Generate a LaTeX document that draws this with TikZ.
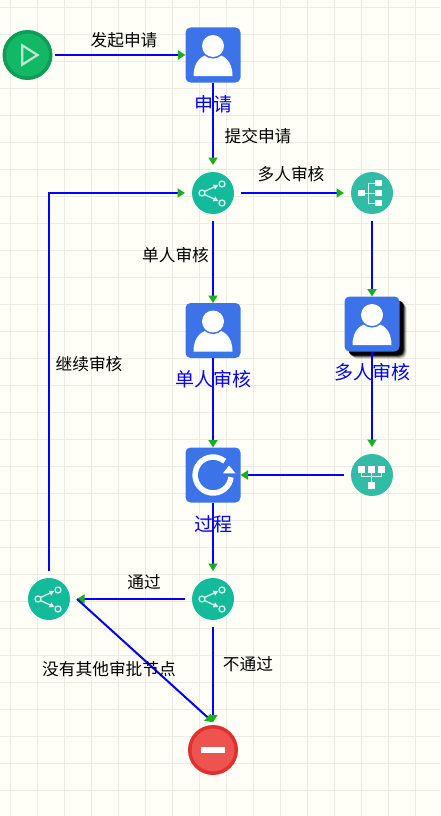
\documentclass[tikz,border=0pt]{standalone}
\usepackage{fontspec}
\setmainfont{Noto Sans CJK SC}
\usetikzlibrary{arrows.meta}
\usetikzlibrary{positioning}

\definecolor{paper}{HTML}{FFFFF8}
\definecolor{gridcol}{HTML}{ECECE6}
\definecolor{boxblue}{HTML}{3D73E8}
\definecolor{tipgreen}{HTML}{1AAF1A}
\definecolor{startfill}{HTML}{13B866}
\definecolor{startring}{HTML}{0E9C57}
\definecolor{stopfill}{HTML}{EF5350}
\definecolor{stopring}{HTML}{DF322E}
\definecolor{forkfill}{HTML}{13BB9B}
\definecolor{multifill}{HTML}{33BCA5}
\definecolor{iconline}{HTML}{D8F3EC}

\tikzset{
  gridline/.style={draw=gridcol, line width=1.5pt},
  flow/.style={draw=blue, line width=2pt, -{Triangle[length=7.5pt,width=9pt,color=tipgreen]}},
  userbox/.style={fill=boxblue, rounded corners=5pt, minimum size=55pt, inner sep=0pt, outer sep=0pt},
  gateway/.style={circle, fill=#1, minimum size=42pt, inner sep=0pt, outer sep=7pt},
  terminal/.style={circle, fill=#1, line width=3.5pt, minimum size=46.5pt, inner sep=0pt, outer sep=4.5pt},
  boxtext/.style={text=blue, font=\fontsize{19}{19}\selectfont, inner sep=0pt},
  flowtext/.style={text=black, font=\fontsize{16.7}{17}\selectfont, inner sep=0pt},
  personicon/.pic={
    \fill [white] (-19.5,-21) .. controls (-19.5,-6) and (-11,1) .. (0,1)
      .. controls (11,1) and (19.5,-6) .. (19.5,-21) -- cycle;
    \fill [boxblue] (0,9) circle (12.6);
    \fill [white] (0,9) circle (11);
  },
  forkicon/.pic={
    \draw [iconline, line width=1.3pt] (-11,0) circle (3) (9,9) circle (3) (9,-10) circle (3);
    \draw [iconline, line width=1.3pt, -{Triangle[length=5pt,width=5pt]}] (-8.5,1.5) -- (5.5,8);
    \draw [iconline, line width=1.3pt, -{Triangle[length=5pt,width=5pt]}] (-8.5,-1.5) -- (5.5,-8);
  },
  spliticon/.pic={
    \fill [white] (-14,-3.3) rectangle (-7.3,3.3);
    \foreach \rowy in {10,0,-10} {
      \fill [white] (3,\rowy-3.3) rectangle (10,\rowy+3.3);
      \draw [iconline, line width=.8pt] (-4,\rowy) -- (3,\rowy);
    }
    \draw [iconline, line width=.8pt] (-7.3,0) -- (-4,0) (-4,10) -- (-4,-10);
  },
  joinicon/.pic={
    \foreach \colx in {-10.3,-.7,9.3} {
      \fill [white] (\colx-3.3,2.3) rectangle (\colx+3.3,9);
      \draw [iconline, line width=.8pt] (\colx,2.3) -- (\colx,-1.7);
    }
    \fill [white] (-4,-14) rectangle (2.7,-7.3);
    \draw [iconline, line width=.8pt] (-10.3,-1.7) -- (9.3,-1.7) (-.7,-1.7) -- (-.7,-7.3);
  },
  turnicon/.pic={
    \draw [white, line width=5.5pt] (18,-2.2) arc (-7:-310:18);
    \fill [white] (10,1.7) -- (22.6,1.7) -- (16,9.5) -- cycle;
  },
}

\begin{document}
\begin{tikzpicture}[x=1pt, y=1pt, on grid]
    \useasboundingbox (0,0) rectangle (440,-816);
    \fill [paper] (0,0) rectangle (440,-816);
    \foreach \gx in {0,...,15} \draw [gridline] (10.5+27*\gx,0) -- (10.5+27*\gx,-816);
    \foreach \gy in {0,...,30} \draw [gridline] (0,-7.5-27*\gy) -- (440,-7.5-27*\gy);

    \node (start) [terminal=startfill, draw=startring] at (27.5,-55) {};
    \node (apply) [userbox, right=185.5pt of start] {};
    \node (check) [gateway=forkfill, below=138pt of apply] {};
    \node (split) [gateway=multifill, right=159pt of check] {};
    \node (single) [userbox, below=137.5pt of check] {};
    \node (proc) [userbox, below=144.5pt of single] {};
    \node (join) [gateway=multifill, right=159pt of proc] {};
    \node (passr) [gateway=forkfill, below=124pt of proc] {};
    \node (passl) [gateway=forkfill, left=164pt of passr] {};
    \node (stop) [terminal=stopfill, draw=stopring, below=151pt of passr] {};

    % shadow under the second user box
    \coordinate (multicn) at (372,-324);
    \foreach \sh/\op in {7/.15,6/.3,5/.5,4/.95} {
      \fill [black, opacity=\op, rounded corners=5pt, shift={(multicn)}]
        (-27.5+\sh,-27.5-\sh) rectangle (27.5+\sh,27.5-\sh);
    }
    \node (multi) [userbox] at (multicn) {};

    \draw [white!70!startfill, line width=2.2pt, line join=miter]
      (22.2,-45.3) -- (22.2,-64.7) -- (37.5,-55) -- cycle;
    \fill [white] (200.7,-752.8) rectangle (225.3,-747.2);
    \pic at (apply) {personicon};
    \pic at (single) {personicon};
    \pic at (multi) {personicon};
    \pic at (proc) {turnicon};
    \pic at (check) {forkicon};
    \pic at (passr) {forkicon};
    \pic at (passl) {forkicon};
    \pic at (split) {spliticon};
    \pic at (join) {joinicon};

    \path (start) edge[flow] (apply);
    \path (apply) edge[flow] (check);
    \path (check) edge[flow] (split);
    \path (check) edge[flow] (single);
    \path (split) edge[flow] (multi);
    \path (multi) edge[flow] (join);
    \path (single) edge[flow] (proc);
    \path (join) edge[flow] (proc);
    \path (proc) edge[flow] (passr);
    \path (passr) edge[flow] (passl);
    \path (passr) edge[flow] (stop);
    \path (passl.east) edge[flow] (stop.north);
    \draw [flow] (passl.north) |- (check.west);

    \node (applytxt) [boxtext, below=49.5pt of apply] {申请};
    \node (singletxt) [boxtext, below=49pt of single] {单人审核};
    \node (multitxt) [boxtext, below=48pt of multi] {多人审核};
    \node (proctxt) [boxtext, below=49pt of proc] {过程};

    \node (lbstart) [flowtext, above left=14.5pt and 89pt of apply] {发起申请};
    \node (lbsubmit) [flowtext, below right=81pt and 45pt of apply] {提交申请};
    \node (lbmulti) [flowtext, above right=19pt and 78pt of check] {多人审核};
    \node (lbsingle) [flowtext, below left=62pt and 37.5pt of check] {单人审核};
    \node (lbagain) [flowtext, above right=235pt and 40pt of passl] {继续审核};
    \node (lbpass) [flowtext, above left=17pt and 69pt of passr] {通过};
    \node (lbfail) [flowtext, below right=65pt and 35pt of passr] {不通过};
    \node (lbnone) [flowtext, below right=70pt and 60pt of passl] {没有其他审批节点};
\end{tikzpicture}
\end{document}
